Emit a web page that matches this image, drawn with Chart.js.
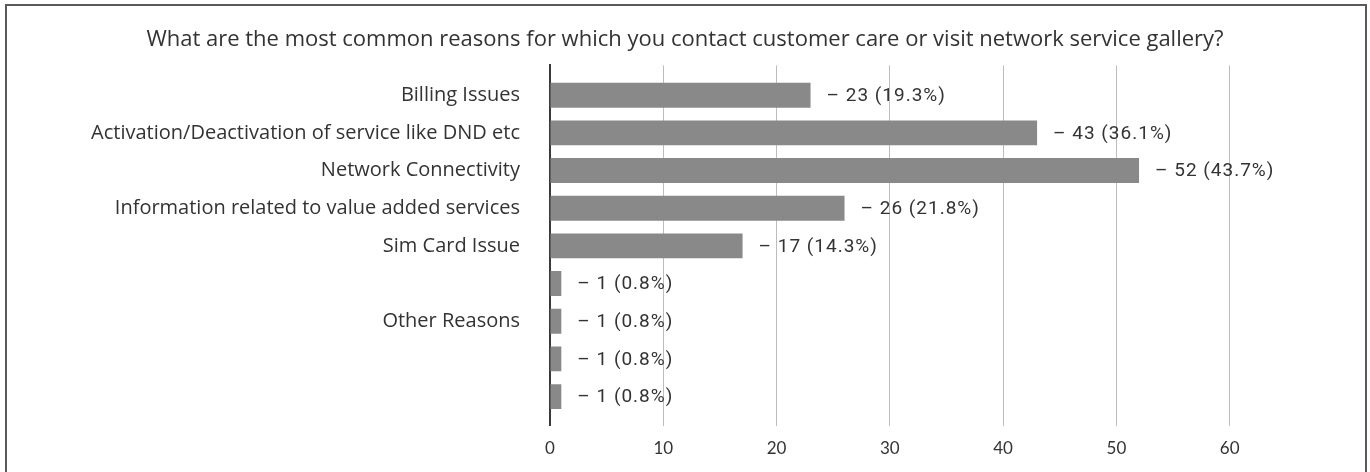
<!DOCTYPE html>
<html>
<head>
<meta charset="utf-8">
<title>Reasons for contacting customer care</title>
<script src="https://cdn.jsdelivr.net/npm/chart.js@4/dist/chart.umd.min.js"></script>
<style>
  html, body { margin: 0; padding: 0; background: #fff; overflow: hidden; }
  #wrap { position: relative; width: 1370px; height: 472px; }
  #frame {
    position: absolute; left: 5px; top: 4px; width: 1362px; height: 480px;
    border: 2px solid #5a5a5a; box-sizing: border-box; pointer-events: none;
  }
</style>
</head>
<body>
<div id="wrap">
  <canvas id="grafico" width="1370" height="472"></canvas>
  <div id="frame"></div>
</div>
<script>
  const titulo = "What are the most common reasons for which you contact customer care or visit network service gallery?";
  const categorias = [
    "Billing Issues",
    "Activation/Deactivation of service like DND etc",
    "Network Connectivity",
    "Information related to value added services",
    "Sim Card Issue",
    "",
    "Other Reasons",
    "",
    ""
  ];
  const respostas = [23, 43, 52, 26, 17, 1, 1, 1, 1];
  const percentuais = [19.3, 36.1, 43.7, 21.8, 14.3, 0.8, 0.8, 0.8, 0.8];
  const ticksX = [0, 10, 20, 30, 40, 50, 60];

  const corTexto = "#333333";

  // writes "– n (p%)" just past the end of every bar
  const rotulosBarras = {
    id: "rotulosBarras",
    afterDatasetsDraw(chart) {
      const ctx = chart.ctx;
      const meta = chart.getDatasetMeta(0);
      ctx.save();
      ctx.font = "19px Roboto, Arial, sans-serif";
      ctx.letterSpacing = "1px";
      ctx.fillStyle = corTexto;
      ctx.textBaseline = "middle";
      ctx.textAlign = "left";
      meta.data.forEach((bar, i) => {
        let texto = "\u2013 " + respostas[i] + " (" + percentuais[i].toFixed(1) + "%)";
        ctx.fillText(texto, bar.x + 16, bar.y + 1);
      });
      ctx.restore();
    }
  };

  // the y axis is numeric (one unit per row) so the grid can run a bit past the first and last bar
  const pontos = respostas.map((v, i) => ({ x: v, y: i }));

  const ctx = document.getElementById("grafico").getContext("2d");
  const grafico = new Chart(ctx, {
    type: "bar",
    data: {
      labels: categorias,
      datasets: [{
        data: pontos,
        backgroundColor: "#898989",
        borderWidth: 0,
        barPercentage: 0.9,
        categoryPercentage: 0.735
      }]
    },
    options: {
      indexAxis: "y",
      responsive: false,
      animation: false,
      layout: {
        padding: { left: 0, right: 0, top: 0, bottom: 0 }
      },
      plugins: {
        legend: { display: false },
        tooltip: { enabled: false },
        title: {
          display: true,
          text: titulo,
          color: corTexto,
          font: { family: "'Open Sans', sans-serif", size: 22, weight: "normal" },
          padding: { top: 27, bottom: 12 }
        }
      },
      scales: {
        x: {
          // room on the right for the value labels; grid lines only up to 60
          min: 0,
          max: 72.39,
          afterBuildTicks(axis) {
            axis.ticks = ticksX.map(v => ({ value: v }));
          },
          grid: { color: "#bdbdbd", lineWidth: 1, drawTicks: false },
          border: { display: false },
          ticks: {
            color: corTexto,
            padding: 13,
            font: { family: "Lato, sans-serif", size: 17 }
          }
        },
        y: {
          type: "linear",
          reverse: true,
          offset: false,
          min: -0.79,
          max: 8.77,
          afterBuildTicks(axis) {
            axis.ticks = categorias.map((c, i) => ({ value: i }));
          },
          afterFit(axis) {
            axis.width = 550;
          },
          grid: { display: false, drawTicks: false },
          border: { display: true, color: "#3a3a3a", width: 2 },
          ticks: {
            color: corTexto,
            padding: 30,
            autoSkip: false,
            callback: (valor) => categorias[valor],
            font: { family: "'Open Sans', sans-serif", size: 20 }
          }
        }
      }
    },
    plugins: [rotulosBarras]
  });
</script>
</body>
</html>
